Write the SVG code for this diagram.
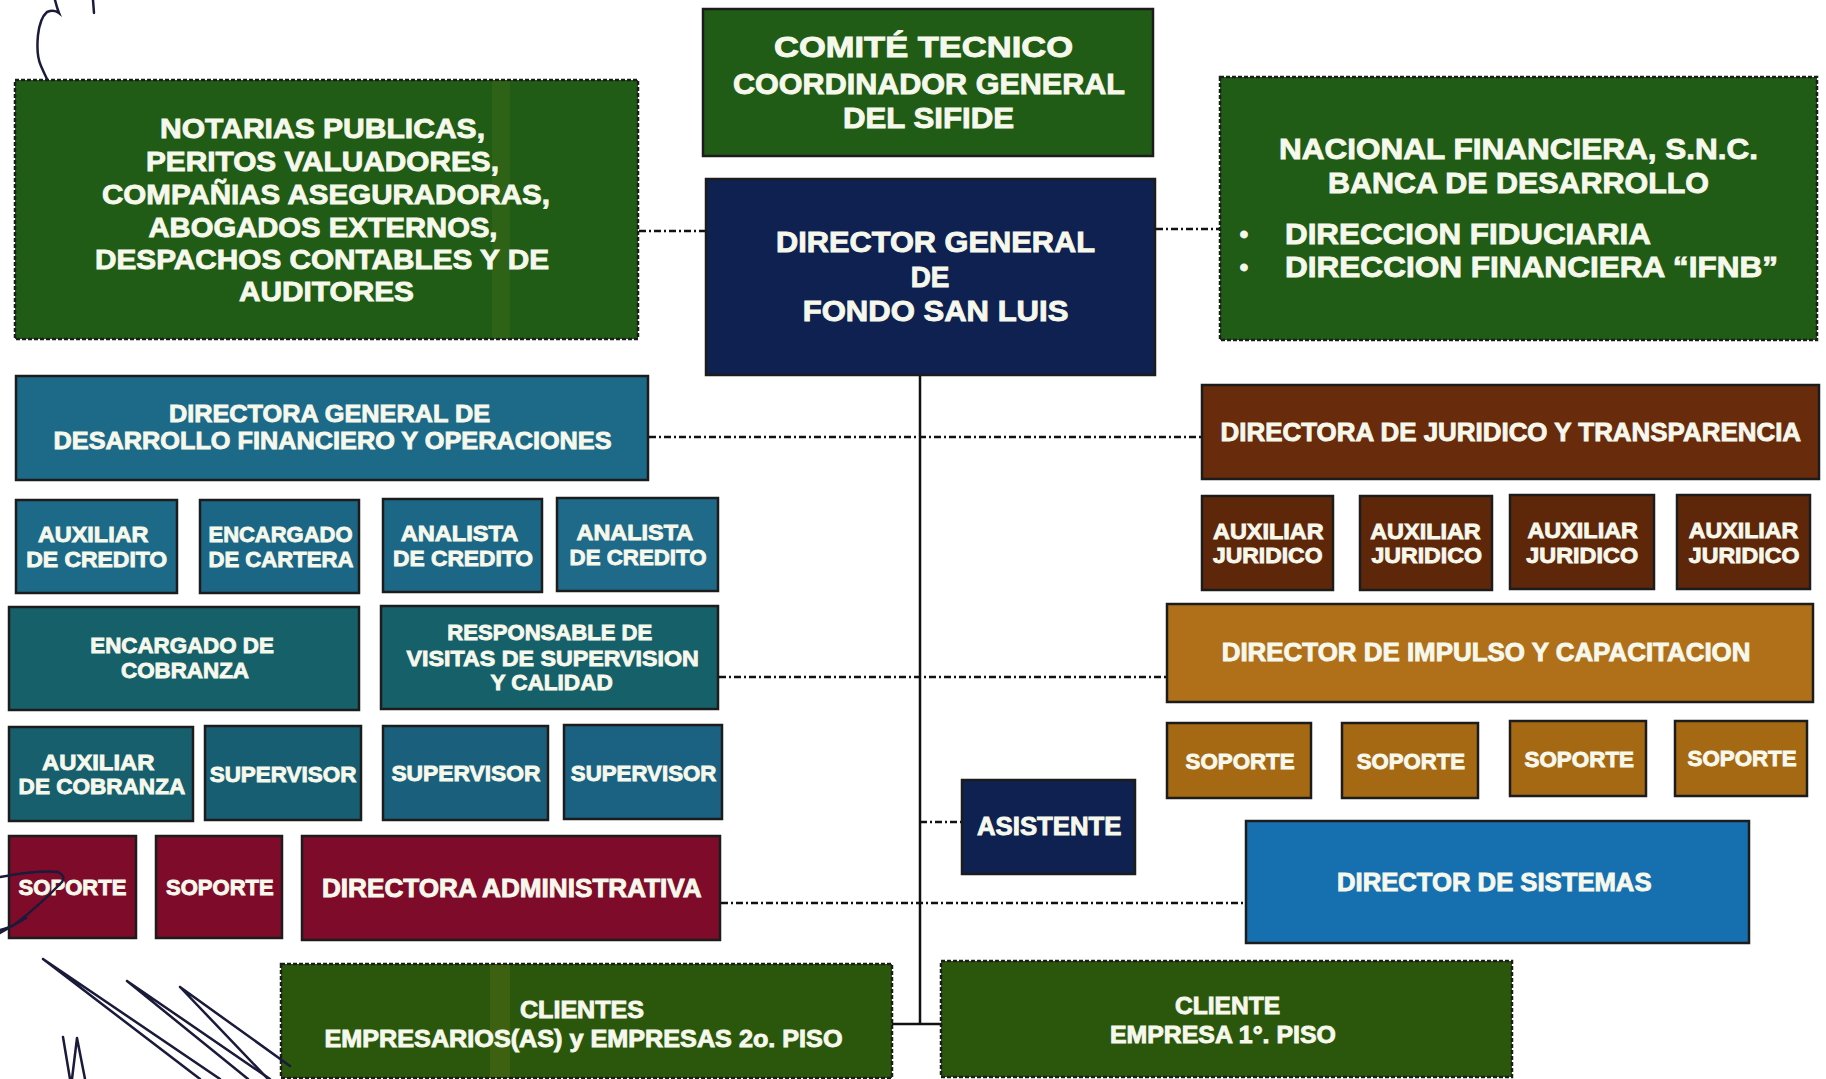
<svg xmlns="http://www.w3.org/2000/svg" width="1826" height="1079" viewBox="0 0 1826 1079">
<style>
.box{stroke:#1c1c1c;stroke-width:2.5}
.dash{stroke:#1c1c1c;stroke-width:2.5;stroke-dasharray:4 2}
.t{fill:#f6f8ec;font-family:"Liberation Sans",Arial,sans-serif;font-weight:bold;stroke:#f6f8ec;stroke-width:0.9}
.conn{stroke:#111;stroke-width:2.5;fill:none}
.dd{stroke:#111;stroke-width:2.4;fill:none;stroke-dasharray:7 3 2 3}
.pen{stroke:#1a1a3a;stroke-width:2.5;fill:none;stroke-linecap:round}
.g1{fill:#205c15}.g2{fill:#2b570c}.nv{fill:#0e2150}.tb{fill:#1d6a88}.tg{fill:#16606a}
.mr{fill:#7e0b2a}.br{fill:#682b0b}.bj{fill:#5f2709}.or{fill:#b0701a}.os{fill:#a66913}.bl{fill:#1670b0}
</style>
<rect width="1826" height="1079" fill="#ffffff"/>

<g id="connectors">
<line class="conn" x1="920" y1="375" x2="920" y2="1025"/>
<line class="conn" x1="891" y1="1024" x2="942" y2="1024"/>
<line class="dd" x1="639" y1="231" x2="705" y2="231"/>
<line class="dd" x1="1156" y1="229" x2="1219" y2="229"/>
<line class="dd" x1="649" y1="437" x2="1201" y2="437"/>
<line class="dd" x1="719" y1="677" x2="1166" y2="677"/>
<line class="dd" x1="920" y1="822" x2="961" y2="822"/>
<line class="dd" x1="721" y1="903" x2="1245" y2="903"/>
</g>

<g id="comite">
<rect class="box g1" x="703" y="9" width="450" height="147"/>
<text class="t" font-size="29.5" x="774" y="57.3" textLength="299" lengthAdjust="spacingAndGlyphs">COMITÉ TECNICO</text>
<text class="t" font-size="29.5" x="733" y="94" textLength="392" lengthAdjust="spacingAndGlyphs">COORDINADOR GENERAL</text>
<text class="t" font-size="29.5" x="843" y="128.3" textLength="171" lengthAdjust="spacingAndGlyphs">DEL SIFIDE</text>
</g>

<g id="director-general">
<rect class="box nv" x="706" y="179" width="449" height="196"/>
<text class="t" font-size="29" x="776" y="252.3" textLength="319" lengthAdjust="spacingAndGlyphs">DIRECTOR GENERAL</text>
<text class="t" font-size="29" x="910.7" y="286.7" textLength="38.7" lengthAdjust="spacingAndGlyphs">DE</text>
<text class="t" font-size="29" x="802.7" y="320.7" textLength="265.7" lengthAdjust="spacingAndGlyphs">FONDO SAN LUIS</text>
</g>

<g id="notarias">
<rect class="dash g1" x="15" y="80" width="623" height="259"/>
<rect x="492" y="81" width="18" height="257" fill="#6f7f22" opacity="0.18"/>
<text class="t" font-size="28.5" x="160" y="138" textLength="325" lengthAdjust="spacingAndGlyphs">NOTARIAS PUBLICAS,</text>
<text class="t" font-size="28.5" x="146" y="171" textLength="353" lengthAdjust="spacingAndGlyphs">PERITOS VALUADORES,</text>
<text class="t" font-size="28.5" x="102" y="204" textLength="448" lengthAdjust="spacingAndGlyphs">COMPAÑIAS ASEGURADORAS,</text>
<text class="t" font-size="28.5" x="148.5" y="237" textLength="349" lengthAdjust="spacingAndGlyphs">ABOGADOS EXTERNOS,</text>
<text class="t" font-size="28.5" x="95" y="269" textLength="454" lengthAdjust="spacingAndGlyphs">DESPACHOS CONTABLES Y DE</text>
<text class="t" font-size="28.5" x="239" y="301" textLength="175" lengthAdjust="spacingAndGlyphs">AUDITORES</text>
</g>

<g id="nacional-financiera">
<rect class="dash g1" x="1220" y="77" width="597" height="263"/>
<text class="t" font-size="30" x="1279" y="159.3" textLength="479" lengthAdjust="spacingAndGlyphs">NACIONAL FINANCIERA, S.N.C.</text>
<text class="t" font-size="30" x="1328" y="192.7" textLength="381" lengthAdjust="spacingAndGlyphs">BANCA DE DESARROLLO</text>
<text class="t" font-size="24" x="1244" y="242" text-anchor="middle">•</text>
<text class="t" font-size="30" x="1285" y="244" textLength="366" lengthAdjust="spacingAndGlyphs">DIRECCION FIDUCIARIA</text>
<text class="t" font-size="24" x="1244" y="275.3" text-anchor="middle">•</text>
<text class="t" font-size="30" x="1285" y="277.3" textLength="493" lengthAdjust="spacingAndGlyphs">DIRECCION FINANCIERA “IFNB”</text>
</g>

<g id="directora-general-dfo">
<rect class="box tb" x="16" y="376" width="632" height="104"/>
<text class="t" font-size="24.5" x="169" y="422" textLength="321" lengthAdjust="spacingAndGlyphs">DIRECTORA GENERAL DE</text>
<text class="t" font-size="24.5" x="53.6" y="449.4" textLength="558" lengthAdjust="spacingAndGlyphs">DESARROLLO FINANCIERO Y OPERACIONES</text>
</g>

<g id="directora-juridico">
<rect class="box br" x="1202" y="385" width="617" height="94"/>
<text class="t" font-size="26" x="1220.5" y="440.8" textLength="580.6" lengthAdjust="spacingAndGlyphs">DIRECTORA DE JURIDICO Y TRANSPARENCIA</text>
</g>

<g id="auxiliar-credito">
<rect class="box tb" x="16" y="500" width="161" height="93"/>
<text class="t" font-size="22.5" x="37.9" y="541.5" textLength="110.6" lengthAdjust="spacingAndGlyphs">AUXILIAR</text>
<text class="t" font-size="22.5" x="26.2" y="566.8" textLength="141" lengthAdjust="spacingAndGlyphs">DE CREDITO</text>
</g>
<g id="encargado-cartera">
<rect class="box" fill="#1c6685" x="200" y="500" width="159" height="93"/>
<text class="t" font-size="22.5" x="208.5" y="541.5" textLength="144" lengthAdjust="spacingAndGlyphs">ENCARGADO</text>
<text class="t" font-size="22.5" x="208.5" y="566.8" textLength="145" lengthAdjust="spacingAndGlyphs">DE CARTERA</text>
</g>
<g id="analista-credito-1">
<rect class="box" fill="#1d6786" x="383" y="499" width="159" height="93"/>
<text class="t" font-size="22.5" x="400.7" y="540.5" textLength="117.6" lengthAdjust="spacingAndGlyphs">ANALISTA</text>
<text class="t" font-size="22.5" x="393" y="566" textLength="140" lengthAdjust="spacingAndGlyphs">DE CREDITO</text>
</g>
<g id="analista-credito-2">
<rect class="box" fill="#1e6a88" x="557" y="498" width="161" height="93"/>
<text class="t" font-size="22.5" x="576.6" y="539.5" textLength="116.5" lengthAdjust="spacingAndGlyphs">ANALISTA</text>
<text class="t" font-size="22.5" x="569.6" y="565" textLength="137" lengthAdjust="spacingAndGlyphs">DE CREDITO</text>
</g>

<g id="encargado-cobranza">
<rect class="box tg" x="9" y="607" width="350" height="103"/>
<text class="t" font-size="22" x="90.3" y="653.4" textLength="183.5" lengthAdjust="spacingAndGlyphs">ENCARGADO DE</text>
<text class="t" font-size="22" x="121" y="678.2" textLength="128" lengthAdjust="spacingAndGlyphs">COBRANZA</text>
</g>
<g id="responsable-visitas">
<rect class="box tg" x="381" y="606" width="337" height="103"/>
<text class="t" font-size="22.5" x="447.3" y="640.4" textLength="205" lengthAdjust="spacingAndGlyphs">RESPONSABLE DE</text>
<text class="t" font-size="22.5" x="406.5" y="665.5" textLength="292.4" lengthAdjust="spacingAndGlyphs">VISITAS DE SUPERVISION</text>
<text class="t" font-size="22.5" x="490.4" y="690.2" textLength="122.3" lengthAdjust="spacingAndGlyphs">Y CALIDAD</text>
</g>

<g id="auxiliar-cobranza">
<rect class="box" fill="#175f6d" x="9" y="727" width="184" height="94"/>
<text class="t" font-size="22.5" x="42" y="769.6" textLength="112.4" lengthAdjust="spacingAndGlyphs">AUXILIAR</text>
<text class="t" font-size="22.5" x="18.6" y="794.4" textLength="166.6" lengthAdjust="spacingAndGlyphs">DE COBRANZA</text>
</g>
<g id="supervisor-1">
<rect class="box" fill="#175e72" x="205" y="726" width="156" height="94"/>
<text class="t" font-size="22.5" x="209.7" y="781.7" textLength="146.8" lengthAdjust="spacingAndGlyphs">SUPERVISOR</text>
</g>
<g id="supervisor-2">
<rect class="box" fill="#1a607c" x="383" y="726" width="165" height="94"/>
<text class="t" font-size="22.5" x="391.4" y="781.2" textLength="149" lengthAdjust="spacingAndGlyphs">SUPERVISOR</text>
</g>
<g id="supervisor-3">
<rect class="box" fill="#1b6282" x="564" y="725" width="158" height="94"/>
<text class="t" font-size="22.5" x="570.8" y="780.6" textLength="145.6" lengthAdjust="spacingAndGlyphs">SUPERVISOR</text>
</g>

<g id="soporte-adm-1">
<rect class="box mr" x="9" y="836" width="127" height="102"/>
<text class="t" font-size="22" x="18.6" y="894.8" textLength="107.8" lengthAdjust="spacingAndGlyphs">SOPORTE</text>
</g>
<g id="soporte-adm-2">
<rect class="box mr" x="156" y="836" width="126" height="102"/>
<text class="t" font-size="22" x="166" y="894.8" textLength="107.7" lengthAdjust="spacingAndGlyphs">SOPORTE</text>
</g>
<g id="directora-administrativa">
<rect class="box mr" x="302" y="836" width="418" height="104"/>
<text class="t" font-size="25" x="322" y="896.5" textLength="379.7" lengthAdjust="spacingAndGlyphs">DIRECTORA ADMINISTRATIVA</text>
</g>

<g id="clientes-2o-piso">
<rect class="dash g2" x="281" y="964" width="611" height="114"/>
<rect x="490" y="965" width="20" height="112" fill="#8a8a2a" opacity="0.2"/>
<text class="t" font-size="24" x="520" y="1018.3" textLength="124" lengthAdjust="spacingAndGlyphs">CLIENTES</text>
<text class="t" font-size="24" x="324.5" y="1046.7" textLength="518" lengthAdjust="spacingAndGlyphs">EMPRESARIOS(AS) y EMPRESAS 2o. PISO</text>
</g>

<g id="auxiliar-juridico-1">
<rect class="box bj" x="1202" y="496" width="131" height="94"/>
<text class="t" font-size="22.5" x="1213" y="539" textLength="110.6" lengthAdjust="spacingAndGlyphs">AUXILIAR</text>
<text class="t" font-size="22.5" x="1213" y="563.4" textLength="109.5" lengthAdjust="spacingAndGlyphs">JURIDICO</text>
</g>
<g id="auxiliar-juridico-2">
<rect class="box bj" x="1360" y="496" width="132" height="94"/>
<text class="t" font-size="22.5" x="1370.2" y="539" textLength="110.6" lengthAdjust="spacingAndGlyphs">AUXILIAR</text>
<text class="t" font-size="22.5" x="1371.4" y="563.4" textLength="110.6" lengthAdjust="spacingAndGlyphs">JURIDICO</text>
</g>
<g id="auxiliar-juridico-3">
<rect class="box bj" x="1510" y="495" width="144" height="94"/>
<text class="t" font-size="22.5" x="1527.4" y="538" textLength="110.6" lengthAdjust="spacingAndGlyphs">AUXILIAR</text>
<text class="t" font-size="22.5" x="1526.3" y="562.5" textLength="111.8" lengthAdjust="spacingAndGlyphs">JURIDICO</text>
</g>
<g id="auxiliar-juridico-4">
<rect class="box bj" x="1677" y="495" width="133" height="94"/>
<text class="t" font-size="22.5" x="1688.8" y="538" textLength="109.5" lengthAdjust="spacingAndGlyphs">AUXILIAR</text>
<text class="t" font-size="22.5" x="1688.8" y="562.5" textLength="110.6" lengthAdjust="spacingAndGlyphs">JURIDICO</text>
</g>

<g id="director-impulso">
<rect class="box or" x="1167" y="604" width="646" height="98"/>
<text class="t" font-size="25" x="1221.7" y="661" textLength="528.8" lengthAdjust="spacingAndGlyphs">DIRECTOR DE IMPULSO Y CAPACITACION</text>
</g>

<g id="soporte-imp-1">
<rect class="box os" x="1167" y="723" width="144" height="75"/>
<text class="t" font-size="22" x="1185.6" y="768.6" textLength="109" lengthAdjust="spacingAndGlyphs">SOPORTE</text>
</g>
<g id="soporte-imp-2">
<rect class="box os" x="1342" y="723" width="136" height="75"/>
<text class="t" font-size="22" x="1356.8" y="768.6" textLength="108.2" lengthAdjust="spacingAndGlyphs">SOPORTE</text>
</g>
<g id="soporte-imp-3">
<rect class="box os" x="1510" y="721" width="136" height="75"/>
<text class="t" font-size="22" x="1524.5" y="766.9" textLength="109.5" lengthAdjust="spacingAndGlyphs">SOPORTE</text>
</g>
<g id="soporte-imp-4">
<rect class="box os" x="1675" y="721" width="132" height="75"/>
<text class="t" font-size="22" x="1687.6" y="766" textLength="109" lengthAdjust="spacingAndGlyphs">SOPORTE</text>
</g>

<g id="asistente">
<rect class="box nv" x="962" y="780" width="173" height="94"/>
<text class="t" font-size="25" x="977" y="835" textLength="144.5" lengthAdjust="spacingAndGlyphs">ASISTENTE</text>
</g>

<g id="director-sistemas">
<rect class="box bl" x="1246" y="821" width="503" height="122"/>
<text class="t" font-size="25" x="1337" y="890.6" textLength="314.5" lengthAdjust="spacingAndGlyphs">DIRECTOR DE SISTEMAS</text>
</g>

<g id="cliente-1o-piso">
<rect class="dash g2" x="941" y="961" width="571" height="116"/>
<text class="t" font-size="24" x="1175" y="1014.3" textLength="105" lengthAdjust="spacingAndGlyphs">CLIENTE</text>
<text class="t" font-size="24" x="1110" y="1042.7" textLength="225.8" lengthAdjust="spacingAndGlyphs">EMPRESA 1°. PISO</text>
</g>

<g id="pen-marks">
<path class="pen" d="M55,0 Q57,8 59,13 Q54,9 47,12 Q40,18 38,35 Q36,55 41,66 Q44,73 47,79"/>
<path class="pen" d="M93,0 L94,13"/>
<path class="pen" d="M0,877 Q40,870 58,872 Q66,876 62,882 Q40,905 14,925 L0,933 M26,918 Q10,928 0,930"/>
<path class="pen" d="M43,959 L200,1079 M43,959 L220,1079"/>
<path class="pen" d="M127,981 L248,1079 M127,981 L270,1079"/>
<path class="pen" d="M180,987 L290,1066 M180,987 L268,1079"/>
<path class="pen" stroke-width="1.5" d="M63,1037 L70,1079 M77,1038 L72,1079 M77,1038 L85,1079"/>
</g>
</svg>
